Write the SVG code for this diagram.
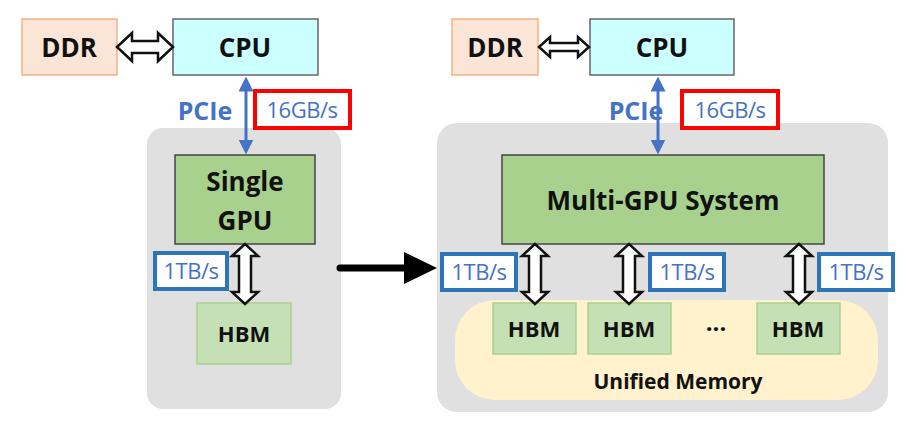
<svg xmlns="http://www.w3.org/2000/svg" width="907" height="424" viewBox="0 0 907 424">
<style>
text{font-family:"Open Sans","Liberation Sans",sans-serif;text-anchor:middle}
.b{font-weight:bold;fill:#111}
.lbl{fill:#4472c4;font-size:22px;letter-spacing:-0.5px}
.blk{fill:#fff;stroke:#111;stroke-width:2.5}
.hbm{fill:#c5e0b4;stroke:#a9d18e;stroke-width:1.5}
.bw{fill:#fff;stroke:#2e75b6;stroke-width:4}
</style>
<defs>
<marker id="bh" viewBox="0 0 10 10" refX="5" refY="5" markerWidth="5" markerHeight="5" orient="auto-start-reverse"><path d="M0,0L10,5L0,10z" fill="#4472c4"/></marker>
<path id="va" d="M-13,12L0,0L13,12L6,12L6,48L13,48L0,60L-13,48L-6,48L-6,12Z"/>
</defs>
<g id="groups">
<rect x="147" y="128" width="194" height="281" rx="16" fill="#e0e0e0"/>
<rect x="437" y="123" width="451" height="289" rx="20" fill="#e0e0e0"/>
<rect x="455" y="300" width="423" height="100" rx="40" fill="#fff2cc"/>
<text class="b" x="678" y="389" font-size="21">Unified Memory</text>
</g>
<g id="ddr1"><rect x="22" y="19" width="95" height="56" fill="#fbe5d6" stroke="#f4b183" stroke-width="1.5"/><text class="b" x="69" y="57" font-size="26">DDR</text></g>
<g id="cpu1"><rect x="173" y="19" width="145" height="56" fill="#ccffff" stroke="#666" stroke-width="1.5"/><text class="b" x="245" y="57" font-size="26">CPU</text></g>
<g id="gpu1"><rect x="175" y="155" width="140" height="89" fill="#a9d18e" stroke="#444" stroke-width="1.5"/><text class="b" x="245" y="191" font-size="26">Single</text><text class="b" x="245" y="230" font-size="26">GPU</text></g>
<g id="hbm1"><rect class="hbm" x="197" y="303" width="94" height="61"/><text class="b" x="244" y="342" font-size="22">HBM</text></g>
<g id="ddr2"><rect x="452" y="19" width="86" height="56" fill="#fbe5d6" stroke="#f4b183" stroke-width="1.5"/><text class="b" x="495" y="57" font-size="26">DDR</text></g>
<g id="cpu2"><rect x="590" y="19" width="144" height="56" fill="#ccffff" stroke="#666" stroke-width="1.5"/><text class="b" x="662" y="57" font-size="26">CPU</text></g>
<g id="gpu2"><rect x="502" y="155" width="322" height="89" fill="#a9d18e" stroke="#444" stroke-width="1.5"/><text class="b" x="663" y="210" font-size="26">Multi-GPU System</text></g>
<g id="hbm2a"><rect class="hbm" x="493" y="303" width="83" height="51"/><text class="b" x="534" y="337" font-size="22">HBM</text></g>
<g id="hbm2b"><rect class="hbm" x="588" y="303" width="83" height="51"/><text class="b" x="629" y="337" font-size="22">HBM</text></g>
<g id="dots"><text class="b" x="716" y="337" font-size="24">···</text></g>
<g id="hbm2c"><rect class="hbm" x="757" y="303" width="83" height="51"/><text class="b" x="798" y="337" font-size="22">HBM</text></g>
<g id="labels">
<text x="205" y="120" font-size="25" font-weight="bold" fill="#4472c4">PCIe</text>
<rect x="255" y="91" width="95" height="37" fill="#fff" stroke="#ff0000" stroke-width="4"/><text class="lbl" x="302" y="118">16GB/s</text>
<text x="636" y="120" font-size="25" font-weight="bold" fill="#4472c4">PCIe</text>
<rect x="682" y="91" width="96" height="37" fill="#fff" stroke="#ff0000" stroke-width="4"/><text class="lbl" x="730" y="118">16GB/s</text>
<rect class="bw" x="155" y="253" width="72" height="36"/><text class="lbl" x="191" y="279">1TB/s</text>
<rect class="bw" x="442" y="254" width="74" height="36"/><text class="lbl" x="479" y="280">1TB/s</text>
<rect class="bw" x="650" y="254" width="74" height="36"/><text class="lbl" x="687" y="280">1TB/s</text>
<rect class="bw" x="819" y="254" width="74" height="36"/><text class="lbl" x="856" y="280">1TB/s</text>
</g>
<g id="connectors">
<path class="blk" d="M117,47L132,33L132,41L158,41L158,33L173,47L158,61L158,53L132,53L132,61Z"/>
<path class="blk" d="M539,47L550,37L550,43L578,43L578,37L589,47L578,57L578,51L550,51L550,57Z"/>
<line x1="246" y1="84" x2="246" y2="147" stroke="#4472c4" stroke-width="3" marker-start="url(#bh)" marker-end="url(#bh)"/>
<line x1="658" y1="84" x2="658" y2="147" stroke="#4472c4" stroke-width="3" marker-start="url(#bh)" marker-end="url(#bh)"/>
<use href="#va" x="245" y="244" class="blk"/>
<use href="#va" x="535" y="244" class="blk"/>
<use href="#va" x="629" y="244" class="blk"/>
<use href="#va" x="799" y="244" class="blk"/>
<path d="M340,268L407,268" stroke="#000" stroke-width="7" stroke-linecap="round"/>
<path d="M404,252L437,268L404,284Z" fill="#000"/>
</g>
</svg>
